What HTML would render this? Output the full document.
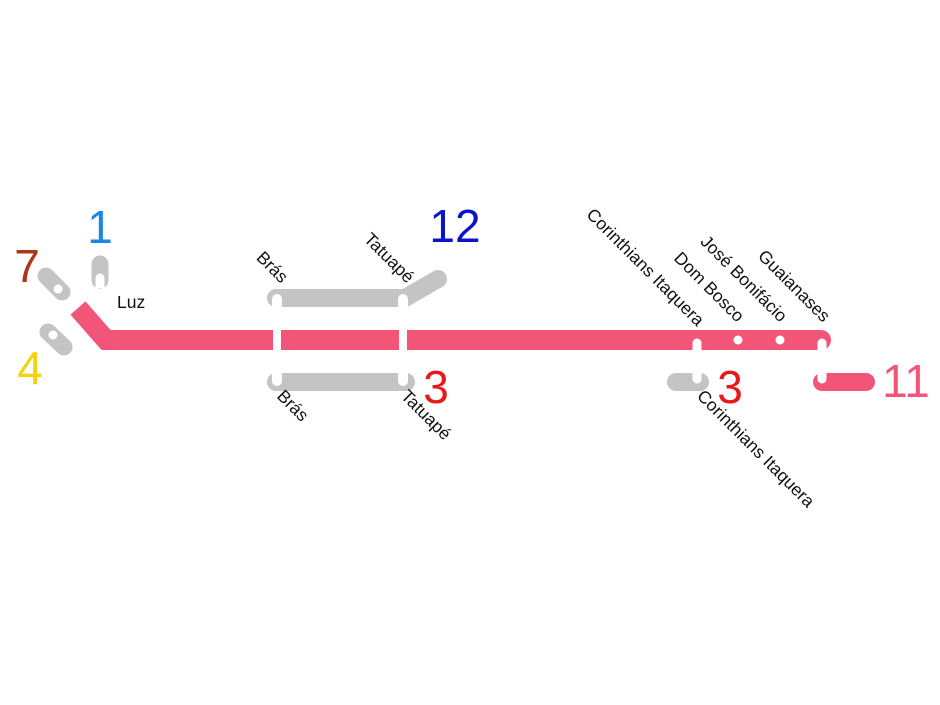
<!DOCTYPE html>
<html><head><style>body{margin:0;background:#fff}svg{display:block}</style></head>
<body>
<svg width="940" height="705" viewBox="0 0 940 705" xmlns="http://www.w3.org/2000/svg" font-family="Liberation Sans, Arial, sans-serif">
<g stroke-linecap="round" fill="none">
<line x1="46" y1="276" x2="62" y2="292" stroke="#c4c4c4" stroke-width="17"/>
<line x1="100" y1="264" x2="100" y2="280" stroke="#c4c4c4" stroke-width="17"/>
<line x1="48" y1="332" x2="64" y2="347" stroke="#c4c4c4" stroke-width="17"/>
<path d="M276 298 H405 L438 279" stroke="#c4c4c4" stroke-width="18"/>
<line x1="276" y1="382" x2="406" y2="382" stroke="#c4c4c4" stroke-width="18"/>
<line x1="676" y1="382" x2="700" y2="382" stroke="#c4c4c4" stroke-width="18"/>
<line x1="822" y1="382" x2="866" y2="382" stroke="#f25577" stroke-width="18"/>
</g>
<path d="M78 308 L106 340 H820" stroke="#f25577" stroke-width="20" fill="none" stroke-linejoin="miter"/>
<circle cx="821" cy="340" r="10" fill="#f25577"/>
<rect x="273" y="326" width="8" height="30" fill="#fff"/>
<rect x="399" y="326" width="8" height="30" fill="#fff"/>
<g fill="#fff">
<circle cx="277" cy="299" r="5"/><rect x="272" y="299" width="10" height="10"/>
<circle cx="403" cy="299" r="5"/><rect x="398" y="299" width="10" height="10"/>
<circle cx="277" cy="381" r="5"/><rect x="272" y="371" width="10" height="10"/>
<circle cx="403" cy="381" r="5"/><rect x="398" y="371" width="10" height="10"/>
<circle cx="697" cy="343" r="4.5"/><rect x="692.5" y="343" width="9" height="10"/>
<circle cx="697" cy="379" r="4.5"/><rect x="692.5" y="369" width="9" height="10"/>
<circle cx="738" cy="340" r="4.5"/>
<circle cx="780" cy="340" r="4.5"/>
<circle cx="822" cy="343" r="4.5"/><rect x="817.5" y="343" width="9" height="10"/>
<circle cx="822" cy="379" r="4.5"/><rect x="817.5" y="369" width="9" height="10"/>
<circle cx="100" cy="278" r="4.5"/><rect x="95.5" y="278" width="9" height="10"/>
<circle cx="58" cy="289" r="4.5"/>
<circle cx="53" cy="335" r="4.5"/>
</g>
<g font-size="46">
<text x="100" y="243" fill="#1a87e6" text-anchor="middle">1</text>
<text x="27" y="282" fill="#b0351b" text-anchor="middle">7</text>
<text x="30" y="384" fill="#f5d20a" text-anchor="middle">4</text>
<text x="455" y="242" fill="#0a14c8" text-anchor="middle">12</text>
<text x="436" y="403" fill="#e81818" text-anchor="middle">3</text>
<text x="730" y="403" fill="#e81818" text-anchor="middle">3</text>
<text x="906" y="397" fill="#f25577" text-anchor="middle">11</text>
</g>
<g font-size="17.5" fill="#111">
<text x="117" y="308">Luz</text>
<text transform="translate(281,284) rotate(45)" text-anchor="end">Brás</text>
<text transform="translate(407,284) rotate(45)" text-anchor="end">Tatuapé</text>
<text transform="translate(697,327) rotate(45)" text-anchor="end">Corinthians Itaquera</text>
<text transform="translate(737,323) rotate(45)" text-anchor="end">Dom Bosco</text>
<text transform="translate(780,323) rotate(45)" text-anchor="end">José Bonifácio</text>
<text transform="translate(823,323) rotate(45)" text-anchor="end">Guaianases</text>
<text transform="translate(276,397) rotate(45)">Brás</text>
<text transform="translate(400,397) rotate(45)">Tatuapé</text>
<text transform="translate(696,397) rotate(45)">Corinthians Itaquera</text>
</g>
</svg>
</body></html>
